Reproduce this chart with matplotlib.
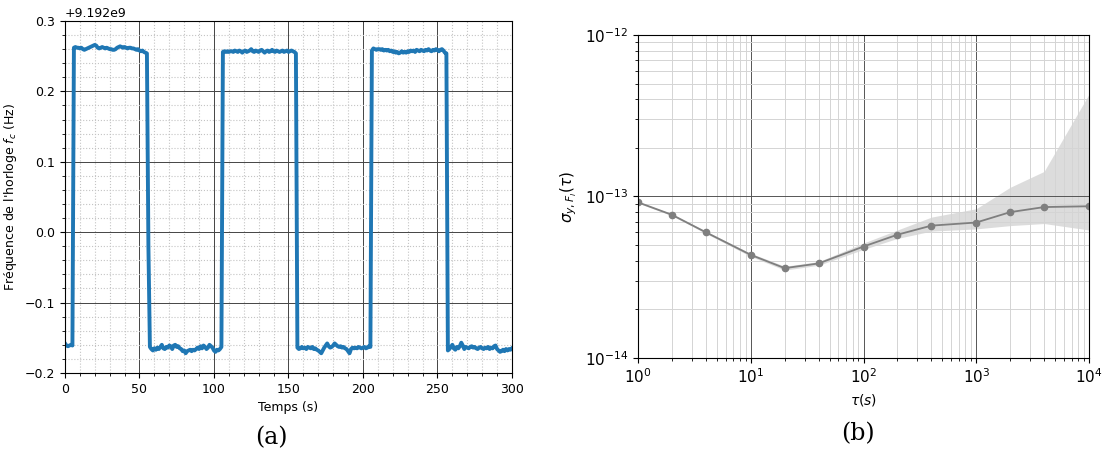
#!/usr/bin/env python3

import matplotlib
matplotlib.use("Agg")
import matplotlib.pyplot as plt
from matplotlib.ticker import MultipleLocator, LogLocator, NullFormatter
import numpy as np

# clock frequency, offsets from F0 (Hz), one sample per second
F0 = 9.192e9
low0 = [-0.158, -0.161, -0.162, -0.161, -0.160, -0.161]
high1 = [0.262, 0.263, 0.262, 0.262, 0.261, 0.262, 0.260, 0.259, 0.260, 0.261,
	0.262, 0.263, 0.264, 0.265, 0.266, 0.265, 0.262, 0.261, 0.262, 0.263,
	0.262, 0.261, 0.262, 0.261, 0.260, 0.260, 0.259, 0.259, 0.260, 0.262,
	0.263, 0.264, 0.263, 0.262, 0.263, 0.262, 0.261, 0.262, 0.262, 0.261,
	0.261, 0.260, 0.259, 0.260, 0.258, 0.257, 0.258, 0.256, 0.255, 0.254]
low1 = [-0.020, -0.163, -0.166, -0.168, -0.165, -0.167, -0.164, -0.166, -0.163, -0.160,
	-0.165, -0.166, -0.163, -0.164, -0.161, -0.162, -0.166, -0.161, -0.160, -0.163,
	-0.162, -0.165, -0.166, -0.169, -0.168, -0.172, -0.169, -0.168, -0.167, -0.169,
	-0.167, -0.168, -0.166, -0.164, -0.166, -0.162, -0.165, -0.161, -0.163, -0.166,
	-0.164, -0.160, -0.162, -0.164, -0.168, -0.170, -0.167, -0.168, -0.166, -0.163]
high2 = [0.256, 0.257, 0.256, 0.257, 0.256, 0.257, 0.257, 0.256, 0.258, 0.257,
	0.256, 0.258, 0.257, 0.255, 0.257, 0.258, 0.256, 0.257, 0.258, 0.260,
	0.257, 0.256, 0.258, 0.257, 0.256, 0.258, 0.259, 0.257, 0.255, 0.257,
	0.258, 0.256, 0.257, 0.259, 0.257, 0.256, 0.258, 0.257, 0.256, 0.257,
	0.258, 0.256, 0.257, 0.258, 0.256, 0.257, 0.258, 0.257, 0.256, 0.254]
low2 = [-0.164, -0.166, -0.165, -0.163, -0.165, -0.164, -0.166, -0.163, -0.164, -0.165,
	-0.163, -0.166, -0.165, -0.167, -0.168, -0.170, -0.172, -0.168, -0.164, -0.161,
	-0.158, -0.162, -0.164, -0.163, -0.161, -0.158, -0.160, -0.162, -0.163, -0.162,
	-0.164, -0.163, -0.165, -0.166, -0.169, -0.172, -0.166, -0.164, -0.165, -0.164,
	-0.165, -0.163, -0.164, -0.165, -0.164, -0.163, -0.165, -0.164, -0.162, -0.163]
high3 = [0.258, 0.261, 0.260, 0.259, 0.260, 0.260, 0.259, 0.260, 0.258, 0.259,
	0.258, 0.259, 0.257, 0.258, 0.256, 0.257, 0.255, 0.256, 0.254, 0.255,
	0.257, 0.255, 0.256, 0.255, 0.257, 0.256, 0.258, 0.257, 0.258, 0.256,
	0.259, 0.258, 0.257, 0.259, 0.258, 0.257, 0.259, 0.258, 0.260, 0.258,
	0.257, 0.259, 0.258, 0.260, 0.259, 0.257, 0.259, 0.260, 0.258, 0.255, 0.254]
low3 = [-0.168, -0.166, -0.163, -0.160, -0.165, -0.167, -0.163, -0.165, -0.162, -0.157,
	-0.161, -0.166, -0.163, -0.164, -0.165, -0.163, -0.162, -0.164, -0.163, -0.165,
	-0.166, -0.164, -0.163, -0.165, -0.166, -0.164, -0.165, -0.163, -0.166, -0.164,
	-0.165, -0.162, -0.161, -0.166, -0.168, -0.170, -0.169, -0.167, -0.169, -0.166,
	-0.168, -0.166, -0.167, -0.165]

freq_offset = np.array(low0 + high1 + low1 + high2 + low2 + high3 + low3)
time_s = np.arange(len(freq_offset))

# Allan deviation
tau = [1, 2, 4, 10, 20, 40, 100, 200, 400, 1000, 2000, 4000, 10000]
adev = [9.2e-14, 7.7e-14, 6.0e-14, 4.35e-14, 3.6e-14, 3.85e-14, 4.9e-14, 5.8e-14, 6.6e-14, 6.9e-14, 8.0e-14, 8.6e-14, 8.7e-14]
adev_low = [9.1e-14, 7.6e-14, 5.9e-14, 4.25e-14, 3.5e-14, 3.75e-14, 4.7e-14, 5.5e-14, 6.1e-14, 6.3e-14, 6.6e-14, 6.8e-14, 6.2e-14]
adev_high = [9.3e-14, 7.8e-14, 6.1e-14, 4.45e-14, 3.7e-14, 3.95e-14, 5.15e-14, 6.2e-14, 7.45e-14, 8.4e-14, 1.14e-13, 1.43e-13, 4.3e-13]

fig = plt.figure(figsize=(11.05, 4.66), dpi=100)

# (a) frequency vs time
ax1 = fig.add_axes([0.0588, 0.1996, 0.4045, 0.7554])
ax1.plot(time_s, F0 + freq_offset, color="#1f77b4", linewidth=2.8)
ax1.set_xlim(0, 300)
# tiny margin so the 0.3 tick survives float rounding near 9.192e9
ax1.set_ylim(F0 - 0.2 - 1e-5, F0 + 0.3 + 1e-5)
ax1.xaxis.set_major_locator(MultipleLocator(50))
ax1.xaxis.set_minor_locator(MultipleLocator(10))
ax1.yaxis.set_major_locator(MultipleLocator(0.1))
ax1.yaxis.set_minor_locator(MultipleLocator(0.02))
ax1.grid(which="major", color="#444444", linewidth=0.7)
ax1.grid(which="minor", color="#c4c4c4", linestyle=":", linewidth=0.8)
ax1.tick_params(labelsize=9)
ax1.yaxis.get_offset_text().set_fontsize(9)
ax1.set_xlabel("Temps (s)", fontsize=9)
ax1.set_ylabel("Fréquence de l'horloge $f_c$ (Hz)", fontsize=9)

# (b) Allan deviation
ax2 = fig.add_axes([0.5774, 0.2318, 0.4081, 0.6931])
ax2.fill_between(tau, adev_low, adev_high, color="#d9d9d9", alpha=0.9, linewidth=0)
ax2.plot(tau, adev, color="#7f7f7f", marker="o", markersize=4.5, linewidth=1.3)
ax2.set_xscale("log")
ax2.set_yscale("log")
ax2.set_xlim(1, 1e4)
ax2.set_ylim(1e-14, 1e-12)
ax2.xaxis.set_minor_locator(LogLocator(base=10, subs=np.arange(2, 10), numticks=20))
ax2.yaxis.set_minor_locator(LogLocator(base=10, subs=np.arange(2, 10), numticks=20))
ax2.xaxis.set_minor_formatter(NullFormatter())
ax2.yaxis.set_minor_formatter(NullFormatter())
ax2.grid(which="major", color="#555555", linewidth=0.7)
ax2.grid(which="minor", color="#d4d4d4", linewidth=0.7)
ax2.tick_params(labelsize=11)
ax2.set_xlabel(r"$\tau(s)$", fontsize=10)
ax2.set_ylabel(r"$\sigma_{y,F_l}(\tau)$", fontsize=11)

fig.text(0.246, 0.06, "(a)", fontsize=17, family="DejaVu Serif", ha="center", va="center")
fig.text(0.776, 0.07, "(b)", fontsize=17, family="DejaVu Serif", ha="center", va="center")

plt.savefig("out.png", dpi=100)
